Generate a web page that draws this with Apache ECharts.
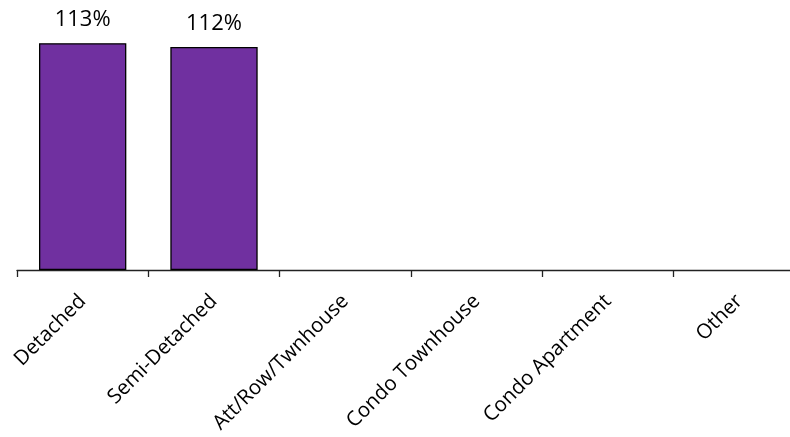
<!DOCTYPE html>
<html>
<head>
<meta charset="utf-8">
<script src="https://cdn.jsdelivr.net/npm/echarts@6/dist/echarts.min.js"></script>
<style>
html,body{margin:0;padding:0;background:#fff;overflow:hidden;}
#c{width:805px;height:437px;}
</style>
</head>
<body>
<div id="c"></div>
<script>
const categories = ['Detached','Semi-Detached','Att/Row/Twnhouse','Condo Townhouse','Condo Apartment','Other'];
const values = [113.4, 111.5, null, null, null, null];

const chart = echarts.init(document.getElementById('c'), null, {renderer:'canvas'});
chart.setOption({
  animation:false,
  grid:{left:17, right:0, top:0, bottom:167},
  xAxis:{
    type:'category',
    data:categories,
    axisLine:{lineStyle:{color:'#222', width:1.3}},
    axisTick:{show:true, length:7, lineStyle:{color:'#222', width:1.3}},
    axisLabel:{rotate:45, interval:0, margin:28, color:'#000', fontFamily:'Open Sans', fontSize:20.5}
  },
  yAxis:{type:'value', min:0, max:135, show:false, splitLine:{show:false}},
  series:[{
    type:'bar',
    data:values,
    barWidth:'66.5%',
    itemStyle:{color:'#7030A0', borderColor:'#000', borderWidth:1.3},
    label:{show:true, position:'top', distance:12, color:'#000', fontFamily:'Open Sans', fontSize:22,
      formatter:p => p.value == null ? '' : Math.round(p.value) + '%'}
  }]
});
</script>
</body>
</html>
